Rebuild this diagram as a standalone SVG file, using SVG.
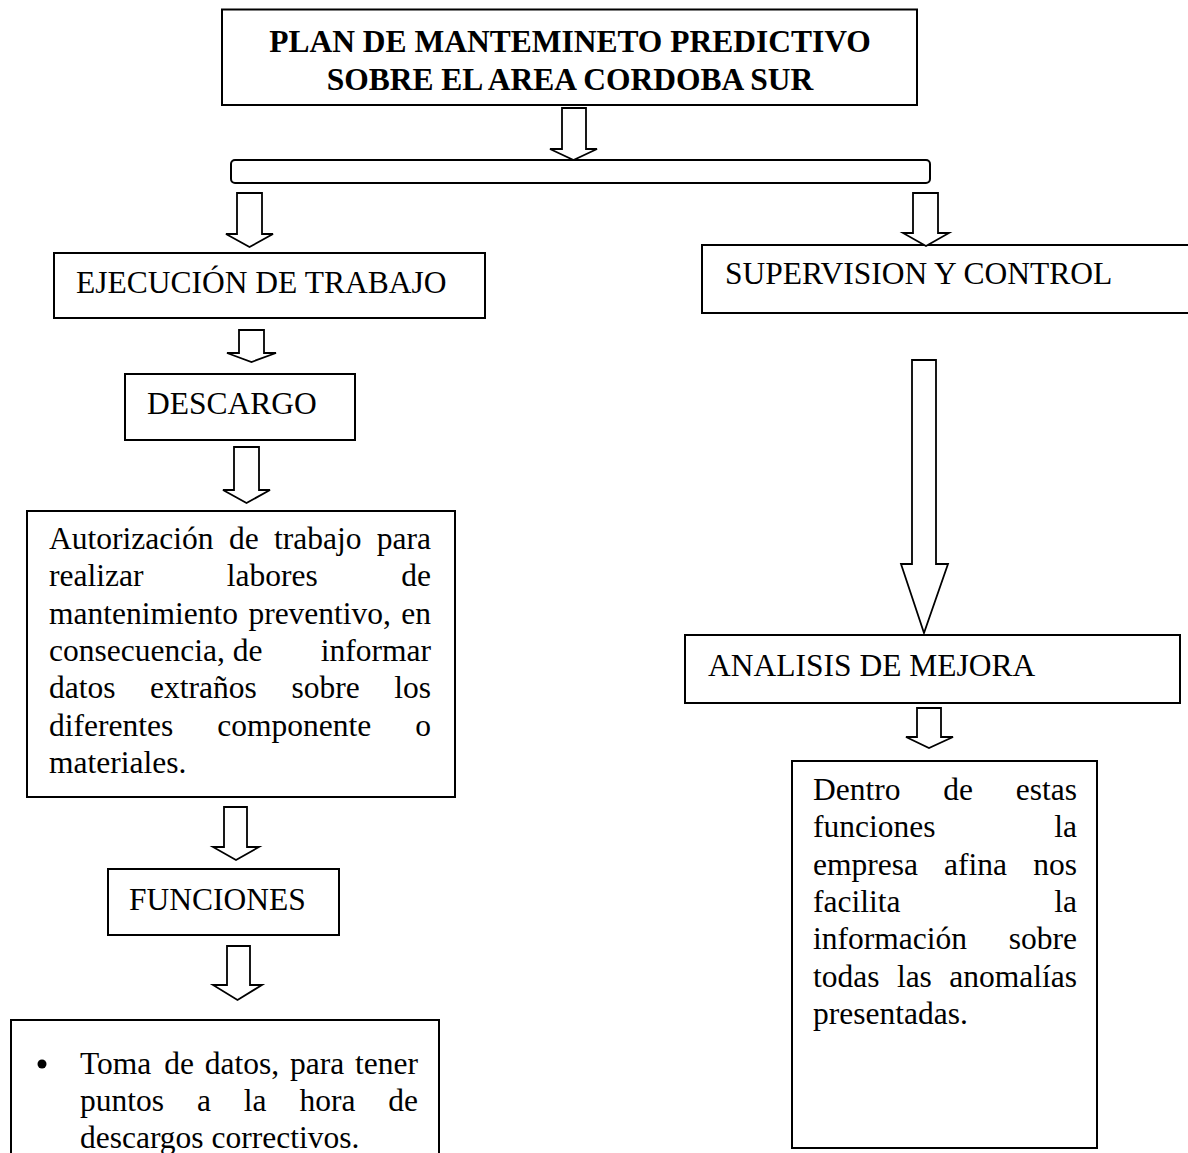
<svg xmlns="http://www.w3.org/2000/svg" width="1188" height="1153" viewBox="0 0 1188 1153">
<style>
  .box{fill:#fff;stroke:#000;stroke-width:2}
  .arr{fill:#fff;stroke:#000;stroke-width:1.8;stroke-linejoin:miter}
  text{font-family:"Liberation Serif","Times New Roman",serif;font-size:31.5px;fill:#000}
  .b{font-weight:bold}
  .e{text-anchor:end}
</style>
<rect width="1188" height="1153" fill="#fff"/>
<g id="n-title">
  <rect class="box" x="222" y="9.5" width="695" height="95.5"/>
  <text class="b" x="570" y="52" text-anchor="middle">PLAN DE MANTEMINETO PREDICTIVO</text>
  <text class="b" x="570" y="90" text-anchor="middle">SOBRE EL AREA CORDOBA SUR</text>
</g>
<g id="n-bar">
  <rect class="box" x="231" y="160" width="699" height="23" rx="4"/>
</g>
<g id="n-ejecucion">
  <rect class="box" x="54" y="253" width="431" height="65"/>
  <text x="76" y="293">EJECUCIÓN DE TRABAJO</text>
</g>
<g id="n-supervision">
  <rect class="box" x="702" y="245" width="490" height="68"/>
  <text x="725" y="284">SUPERVISION Y CONTROL</text>
</g>
<g id="n-descargo">
  <rect class="box" x="125" y="374" width="230" height="66"/>
  <text x="147" y="414">DESCARGO</text>
</g>
<g id="n-autorizacion">
  <rect class="box" x="27" y="511" width="428" height="286"/>
  <text y="549"><tspan x="49">Autorización</tspan><tspan x="228.9">de</tspan><tspan x="274">trabajo</tspan></text>
  <text class="e" x="431" y="549">para</text>
  <text y="586"><tspan x="49">realizar</tspan><tspan x="226.8">labores</tspan></text>
  <text class="e" x="431" y="586">de</text>
  <text y="623.5"><tspan x="49">mantenimiento</tspan><tspan x="248.4">preventivo,</tspan></text>
  <text class="e" x="431" y="623.5">en</text>
  <text x="49" y="661">consecuencia, de</text>
  <text class="e" x="431" y="661">informar</text>
  <text y="698"><tspan x="49">datos</tspan><tspan x="150.1">extraños</tspan><tspan x="291.4">sobre</tspan></text>
  <text class="e" x="431" y="698">los</text>
  <text y="735.5"><tspan x="49">diferentes</tspan><tspan x="217.2">componente</tspan></text>
  <text class="e" x="431" y="735.5">o</text>
  <text x="49" y="773">materiales.</text>
</g>
<g id="n-funciones">
  <rect class="box" x="108" y="869" width="231" height="66"/>
  <text x="129" y="910">FUNCIONES</text>
</g>
<g id="n-toma">
  <rect class="box" x="11" y="1020" width="428" height="145"/>
  <circle cx="42" cy="1064" r="4.5" fill="#000"/>
  <text y="1074"><tspan x="80">Toma</tspan><tspan x="164.3">de</tspan><tspan x="204.8">datos,</tspan><tspan x="290">para</tspan></text>
  <text class="e" x="418" y="1074">tener</text>
  <text y="1111"><tspan x="80">puntos</tspan><tspan x="196.9">a</tspan><tspan x="243.8">la</tspan><tspan x="299.4">hora</tspan></text>
  <text class="e" x="418" y="1111">de</text>
  <text x="80" y="1148">descargos correctivos.</text>
</g>
<g id="n-analisis">
  <rect class="box" x="685" y="635" width="495" height="68"/>
  <text x="708" y="676">ANALISIS DE MEJORA</text>
</g>
<g id="n-dentro">
  <rect class="box" x="792" y="761" width="305" height="387"/>
  <text y="800"><tspan x="813">Dentro</tspan><tspan x="943.3">de</tspan></text>
  <text class="e" x="1077" y="800">estas</text>
  <text x="813" y="837">funciones</text>
  <text class="e" x="1077" y="837">la</text>
  <text y="874.5"><tspan x="813">empresa</tspan><tspan x="944.1">afina</tspan></text>
  <text class="e" x="1077" y="874.5">nos</text>
  <text x="813" y="912">facilita</text>
  <text class="e" x="1077" y="912">la</text>
  <text x="813" y="949">información</text>
  <text class="e" x="1077" y="949">sobre</text>
  <text y="986.5"><tspan x="813">todas</tspan><tspan x="896.9">las</tspan></text>
  <text class="e" x="1077" y="986.5">anomalías</text>
  <text x="813" y="1024">presentadas.</text>
</g>
<g id="connectors">
  <path class="arr" d="M562 108 H586 V149 H597 L573.5 160 L550 149 H562 Z"/>
  <path class="arr" d="M237 193 H262 V234 H273 L249.5 247 L226 234 H237 Z"/>
  <path class="arr" d="M913 193 H938 V233 H949 L926 246 L903 233 H913 Z"/>
  <path class="arr" d="M239 330 H264 V353 H276 L251.5 362 L227 353 H239 Z"/>
  <path class="arr" d="M234 447 H259 V490 H270 L246.5 503 L223 490 H234 Z"/>
  <path class="arr" d="M224 807 H247 V847 H259 L236 860 L213 847 H224 Z"/>
  <path class="arr" d="M227 946 H250 V985 H262 L237.5 1000 L213 985 H227 Z"/>
  <path class="arr" d="M912 360 H936 V564 H948 L924 633 L901 564 H912 Z"/>
  <path class="arr" d="M917 708 H941 V737 H953 L929 748 L906 737 H917 Z"/>
</g>
</svg>
